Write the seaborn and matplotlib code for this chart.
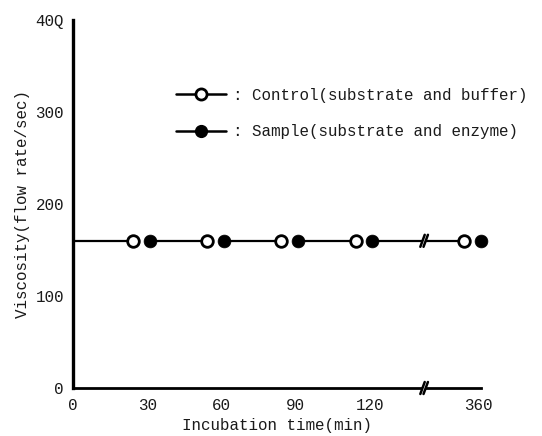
import matplotlib
matplotlib.use("Agg")
import matplotlib.pyplot as plt
from matplotlib.lines import Line2D
import seaborn as sns
import pandas as pd

# ---- data ----
times_min = [30, 60, 90, 120, 360]
control_viscosity = [160, 160, 160, 160, 160]
sample_viscosity = [160, 160, 160, 160, 160]
start_viscosity = 160
x_tick_labels = ["0", "30", "60", "90", "120", "360"]
y_ticks = [0, 100, 200, 300, 400]
y_tick_labels = ["0", "100", "200", "300", "40Q"]
series_names = ["Control(substrate and buffer)", "Sample(substrate and enzyme)"]

# ---- broken x-axis mapping (120 -> 360 compressed) ----
BREAK_POS = 142.0
POS_360 = 163.8
def xpos(t):
    return t if t <= 120 else POS_360

CONTROL_SHIFT = -5.7
SAMPLE_SHIFT = 1.0

sns.set_theme(style="white")
plt.rcParams["font.family"] = ["Liberation Mono", "DejaVu Sans Mono"]
FS = 11.4
TXT = "#1a1a1a"

fig = plt.figure(figsize=(5.42, 4.36), dpi=100)
ax = fig.add_axes([73 / 542, 1 - 388 / 436, 408 / 542, 368 / 436])

ctrl_x = [xpos(t) + CONTROL_SHIFT for t in times_min]
samp_x = [xpos(t) + SAMPLE_SHIFT for t in times_min]

# connecting line segments: axis -> first control, each sample -> next control
rows = []
prev_x, prev_y = 0, start_viscosity
for i, (cx, cy) in enumerate(zip(ctrl_x, control_viscosity)):
    rows.append({"seg": i, "x": prev_x, "y": prev_y})
    rows.append({"seg": i, "x": cx, "y": cy})
    prev_x, prev_y = samp_x[i], sample_viscosity[i]
seg_df = pd.DataFrame(rows)
sns.lineplot(data=seg_df, x="x", y="y", units="seg", estimator=None,
             color="black", lw=1.6, ax=ax, legend=False, sort=False)

ctrl_df = pd.DataFrame({"x": ctrl_x, "y": control_viscosity})
samp_df = pd.DataFrame({"x": samp_x, "y": sample_viscosity})
sns.scatterplot(data=ctrl_df, x="x", y="y", ax=ax, marker="o", s=70,
                facecolor="white", edgecolor="black", linewidth=2.0,
                zorder=5, clip_on=False)
sns.scatterplot(data=samp_df, x="x", y="y", ax=ax, marker="o", s=85,
                color="black", edgecolor="black", linewidth=0.5,
                zorder=5, clip_on=False)

# break marks on data line and x-axis
pxx = 165 / 408
pxy = 400 / 368
for yb in (start_viscosity, 0):
    ax.plot([BREAK_POS - 1.5 * pxx, BREAK_POS + 1.5 * pxx], [yb, yb],
            color="white", lw=3, zorder=6, clip_on=False, solid_capstyle="butt")
    for off in (-1.6, 1.6):
        ax.plot([BREAK_POS + (off - 2.2) * pxx, BREAK_POS + (off + 2.2) * pxx],
                [yb - 6 * pxy, yb + 6 * pxy], color="black", lw=1.8,
                zorder=7, clip_on=False)

ax.set_xlim(0, 165)
ax.set_ylim(0, 400)
ax.set_xticks([0, 30, 60, 90, 120, POS_360])
ax.set_xticklabels(x_tick_labels)
ax.set_yticks(y_ticks)
ax.set_yticklabels(y_tick_labels)
ax.tick_params(axis="both", length=2.5, width=1.5, color="black",
               labelsize=FS, labelcolor=TXT, direction="out", pad=4)
ax.tick_params(axis="x", pad=5)

ax.set_xlabel("Incubation time(min)", fontsize=FS, color=TXT, labelpad=3)
ax.set_ylabel("Viscosity(flow rate/sec)", fontsize=FS, color=TXT, labelpad=4)

sns.despine(ax=ax, top=True, right=True)
ax.spines["left"].set_linewidth(2.4)
ax.spines["bottom"].set_linewidth(2.0)
ax.spines["left"].set_color("black")
ax.spines["bottom"].set_color("black")
ax.grid(False)

handles = [
    Line2D([0], [0], color="black", lw=1.8, marker="o", markersize=8,
           markerfacecolor="white", markeredgecolor="black", markeredgewidth=2.0),
    Line2D([0], [0], color="black", lw=1.8, marker="o", markersize=8.5,
           markerfacecolor="black", markeredgecolor="black"),
]
leg = ax.legend(handles, [": " + n for n in series_names], loc="center left",
                bbox_to_anchor=(176 / 542, 1 - 113.5 / 436),
                bbox_transform=fig.transFigure, frameon=False,
                fontsize=FS, handlelength=3.15, handletextpad=0.44,
                labelspacing=1.35, borderpad=0, borderaxespad=0)
for t in leg.get_texts():
    t.set_color(TXT)

fig.savefig("out.png", dpi=100, facecolor="white")
